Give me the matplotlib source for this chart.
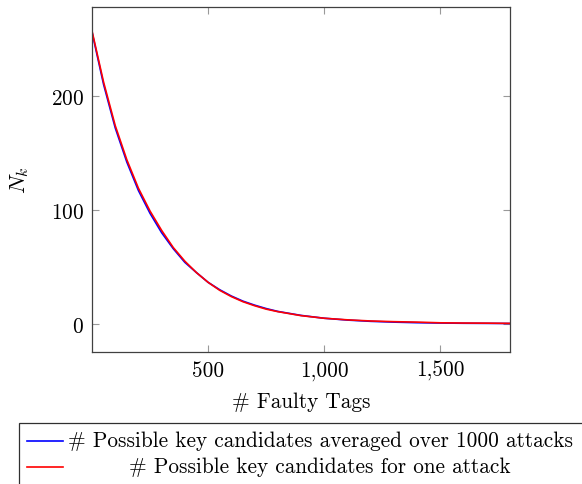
import matplotlib
matplotlib.use("Agg")
import matplotlib.pyplot as plt
from matplotlib.lines import Line2D
from matplotlib.patches import Rectangle
from matplotlib.ticker import FuncFormatter

plt.rcParams['font.family'] = ['cmr10', 'DejaVu Serif']
plt.rcParams['mathtext.fontset'] = 'cm'
plt.rcParams['axes.formatter.use_mathtext'] = True

x_tags = [0, 50, 100, 150, 200, 250, 300, 350, 400, 450, 500, 550, 600, 650, 700,
          750, 800, 900, 1000, 1100, 1200, 1300, 1400, 1500, 1600, 1700, 1800]
avg_candidates = [256, 210, 172, 142, 117, 97, 80, 66, 54, 45, 36.5, 30, 24.5, 20, 16.5,
                  13.5, 11, 7.5, 5, 3.4, 2.3, 1.6, 1.1, 0.8, 0.6, 0.5, 0.4]
one_candidates = [257, 212, 174, 144, 119, 99, 82, 67, 55, 45, 36.5, 29.5, 24, 19.5, 16,
                  13, 10.8, 7.3, 5, 3.6, 2.6, 2.0, 1.6, 1.0, 0.8, 0.7, 0.5]
x_ticks = [500, 1000, 1500]
y_ticks = [0, 100, 200]
labels = ["# Possible key candidates averaged over 1000 attacks",
          "# Possible key candidates for one attack"]

FS = 15.3
fig = plt.figure(figsize=(5.82, 4.85), dpi=100)
ax = fig.add_axes([92/582, 1-353/485, (510-92)/582, (353-8)/485])
ax.plot(x_tags, avg_candidates, color='#0000ff', lw=1.2)
ax.plot(x_tags, one_candidates, color='#ff0000', lw=1.2)
ax.set_xlim(0, 1800)
ax.set_ylim(-24.6, 278)
ax.set_xticks(x_ticks)
ax.set_yticks(y_ticks)
ax.xaxis.set_major_formatter(FuncFormatter(lambda v, p: f"{int(v):,}"))
ax.tick_params(direction='in', top=True, right=True, length=5, width=0.8,
               color='#999999', labelsize=FS, pad=6)
for s in ax.spines.values():
    s.set_color('#404040')
    s.set_linewidth(0.9)
ax.set_xlabel("# Faulty Tags", fontsize=FS, labelpad=8)
ax.set_ylabel(r"$N_k$", fontsize=16, labelpad=14)

# legend box (below axes, clipped at right/bottom like reference)
W, H = 582, 485
fig.patches.append(Rectangle((19/W, -0.05), 1.0, 1-424/H+0.05, transform=fig.transFigure,
                             fill=False, edgecolor='#303030', lw=0.9))
for lab, col, yp in zip(labels, ['#0000ff', '#ff0000'], [441.5, 467.5]):
    fig.lines.append(Line2D([27/W, 63/W], [1-yp/H, 1-yp/H], transform=fig.transFigure,
                            color=col, lw=1.2))
    fig.text(320/W, 1-yp/H, lab, ha='center', va='center', fontsize=FS)

fig.savefig("out.png", dpi=100)
